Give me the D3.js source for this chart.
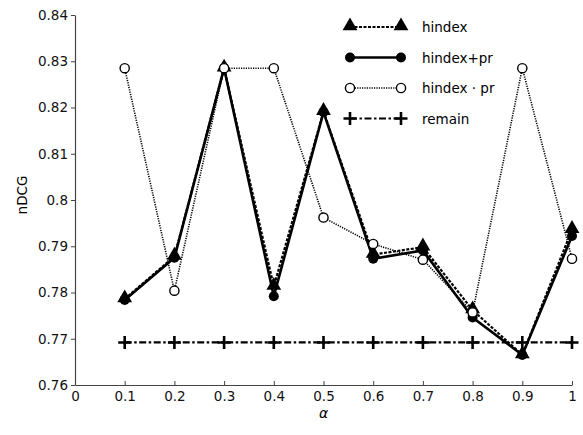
<!DOCTYPE html>
<html>
<head>
<meta charset="utf-8">
<script src="https://cdn.jsdelivr.net/npm/d3@7"></script>
<style>
  body { margin: 0; background: #fff; }
  svg { font-family: "DejaVu Sans", sans-serif; }
</style>
</head>
<body>
<div id="chart"></div>
<script>
// data
var alphas = [0.1, 0.2, 0.3, 0.4, 0.5, 0.6, 0.7, 0.8, 0.9, 1];
var hindex = [0.7786, 0.7878, 0.8285, 0.7813, 0.8191, 0.7882, 0.7898, 0.7762, 0.7665, 0.7936];
var hindexPlusPr = [0.7784, 0.7875, 0.8285, 0.7792, 0.8190, 0.7873, 0.7891, 0.7746, 0.7665, 0.7922];
var hindexTimesPr = [0.8285, 0.7804, 0.8285, 0.8285, 0.7962, 0.7905, 0.7871, 0.7757, 0.8285, 0.7873];
var remain = [0.7692, 0.7692, 0.7692, 0.7692, 0.7692, 0.7692, 0.7692, 0.7692, 0.7692, 0.7692];
var xTicks = [0, 0.1, 0.2, 0.3, 0.4, 0.5, 0.6, 0.7, 0.8, 0.9, 1];
var yTicks = [0.76, 0.77, 0.78, 0.79, 0.8, 0.81, 0.82, 0.83, 0.84];
var seriesNames = ['hindex', 'hindex+pr', 'hindex \u00b7 pr', 'remain'];

var width = 583, height = 435;
var margin = {left: 75, right: 11, top: 15, bottom: 50};

var svg = d3.select('#chart').append('svg')
    .attr('width', width)
    .attr('height', height);

var x = d3.scaleLinear().domain([0, 1]).range([margin.left, width - margin.right]);
var y = d3.scaleLinear().domain([0.76, 0.84]).range([height - margin.bottom, margin.top]);

var fmt = function(d) { return String(+d.toFixed(2)); };

// axes
var xAxis = svg.append('g')
    .attr('transform', 'translate(0,' + y(0.76) + ')')
    .call(d3.axisBottom(x).tickValues(xTicks).tickFormat(fmt).tickSizeInner(-4).tickSizeOuter(0).tickPadding(6));
var yAxis = svg.append('g')
    .attr('transform', 'translate(' + x(0) + ',0)')
    .call(d3.axisLeft(y).tickValues(yTicks).tickFormat(fmt).tickSizeInner(4).tickSizeOuter(0).tickPadding(3));
svg.selectAll('.domain').attr('stroke', '#444').attr('stroke-width', 1.2);
svg.selectAll('.tick line').attr('stroke', '#444');
svg.selectAll('.tick text').attr('font-size', 13.5).attr('fill', '#111')
    .attr('font-family', '"DejaVu Sans", sans-serif');

svg.append('text')
    .attr('transform', 'translate(27,195) rotate(-90)')
    .attr('text-anchor', 'middle')
    .attr('font-size', 13.5)
    .text('nDCG');
svg.append('text')
    .attr('x', x(0.5))
    .attr('y', 418)
    .attr('text-anchor', 'middle')
    .attr('font-size', 14)
    .attr('font-style', 'italic')
    .text('\u03b1');

var styles = [
    {vals: hindex, sw: 2.2, dash: '3,1.5', marker: 'triangle'},
    {vals: hindexPlusPr, sw: 2.6, dash: null, marker: 'dot'},
    {vals: hindexTimesPr, sw: 1.6, dash: '1.2,1.2', marker: 'open'},
    {vals: remain, sw: 2.2, dash: '7,2.5,2.5,2.5', marker: 'plus'}
];

var line = d3.line()
    .x(function(d, i) { return x(alphas[i]); })
    .y(function(d) { return y(d); });

function drawMarker(g, kind, cx, cy) {
    if (kind === 'triangle') {
        g.append('path')
            .attr('d', d3.symbol().type(d3.symbolTriangle).size(95)())
            .attr('transform', 'translate(' + cx + ',' + (cy - 1) + ')')
            .attr('fill', '#000');
    } else if (kind === 'dot') {
        g.append('circle').attr('cx', cx).attr('cy', cy).attr('r', 5).attr('fill', '#000');
    } else if (kind === 'open') {
        g.append('circle').attr('cx', cx).attr('cy', cy).attr('r', 4.6)
            .attr('fill', '#fff').attr('stroke', '#000').attr('stroke-width', 1.4);
    } else {
        g.append('path')
            .attr('d', 'M' + (cx - 6.5) + ',' + cy + 'H' + (cx + 6.5) + 'M' + cx + ',' + (cy - 6.5) + 'V' + (cy + 6.5))
            .attr('stroke', '#000').attr('stroke-width', 2.6);
    }
}

// draw order: remain, hindex+pr, hindex, hindex·pr
[3, 1, 0, 2].forEach(function(k) {
    var s = styles[k];
    var g = svg.append('g');
    g.append('path')
        .attr('d', line(s.vals))
        .attr('fill', 'none')
        .attr('stroke', '#000')
        .attr('stroke-width', s.sw)
        .attr('stroke-dasharray', s.dash);
    s.vals.forEach(function(v, i) { drawMarker(g, s.marker, x(alphas[i]), y(v)); });
});

// legend
var legend = svg.append('g');
seriesNames.forEach(function(name, k) {
    var s = styles[k];
    var ly = 27 + k * 30.5;
    var g = legend.append('g');
    g.append('line')
        .attr('x1', 350).attr('x2', 401).attr('y1', ly).attr('y2', ly)
        .attr('stroke', '#000').attr('stroke-width', s.sw)
        .attr('stroke-dasharray', s.dash);
    drawMarker(g, s.marker, 350, ly);
    drawMarker(g, s.marker, 401, ly);
    g.append('text')
        .attr('x', 422).attr('y', ly + 5)
        .attr('font-size', 13.5)
        .text(name);
});
</script>
</body>
</html>
